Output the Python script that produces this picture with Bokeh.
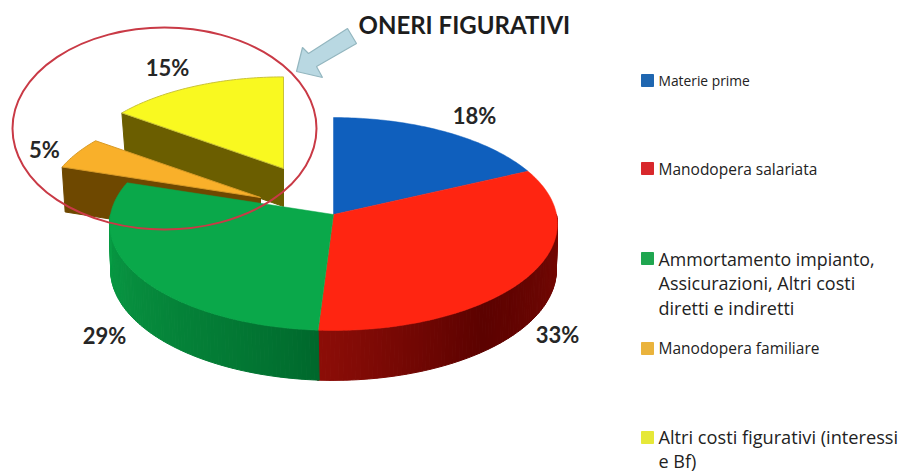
import numpy as np
from bokeh.embed import file_html
from bokeh.models import Range1d, ColumnDataSource
from bokeh.plotting import figure
from bokeh.resources import INLINE
from bokeh.core.properties import value

# ---- data
categories = ["Materie prime", "Manodopera salariata",
              "Ammortamento impianto, Assicurazioni, Altri costi diretti e indiretti",
              "Manodopera familiare", "Altri costi figurativi (interessi e Bf)"]
shares = [18, 33, 29, 5, 15]
share_labels = ["18%", "33%", "29%", "5%", "15%"]
legend_lines = [["Materie prime"], ["Manodopera salariata"],
                ["Ammortamento impianto,", "Assicurazioni, Altri costi", "diretti e indiretti"],
                ["Manodopera familiare"], ["Altri costi figurativi (interessi", "e Bf)"]]
callout = "ONERI FIGURATIVI"

# ---- styles and layout (page pixels)
top_colors = ["#0f5fbd", "#ff2511", "#0aa84a", "#f9b02a", "#f9f920"]
legend_colors = ["#1f66b0", "#d8282c", "#1fa650", "#eab33c", "#e6e838"]
wall_colors = {3: "#6e4800", 4: "#6b5e00"}
offset = {3: (-73, -17), 4: (-50, -46)}
explode_scale = {3: 0.96, 4: 0.94}
wall_depth = {3: 45, 4: 38}
label_pos = [(474, 115), (557, 334), (104, 335), (44, 149), (167, 67)]
legend_y = [[80], [168], [258, 282, 307], [347], [436, 460]]
legend_sizes = [["13.8px"], ["15.5px"], ["17.8px", "18px", "18px"], ["15.5px"], ["18.2px", "18px"]]
legend_marker_y = [80, 168, 258, 348, 437]
CX, CY, A, B, K, DEPTH = 333, 214, 223, 105.6, 0.0892, 45.5

W, H = 902, 472
p = figure(width=W, height=H, output_backend="svg", toolbar_location=None,
           x_range=Range1d(0, W), y_range=Range1d(H, 0),
           min_border=0, outline_line_color=None, background_fill_color="white")
p.axis.visible = False
p.grid.visible = False


def proj(t, r=1.0):
    s = 1 / (1 + K * r * np.cos(t))
    return CX + A * r * np.sin(t) * s, CY - B * r * np.cos(t) * s, s


edges = np.radians(np.cumsum([0] + shares) * 3.6)


def arc(t0, t1):
    n = max(2, int(np.degrees(t1 - t0)) + 1)
    return np.linspace(t0, t1, n)


def top_face(i, r=1.0, dx=0.0, dy=0.0):
    x, y, _ = proj(arc(edges[i], edges[i + 1]), r)
    return [CX + dx, *(x + dx)], [CY + dy, *(y + dy)]


# exploded slices, back to front
for i in (4, 3):
    dx, dy = offset[i]
    x0, y0, _ = proj(edges[i], explode_scale[i])
    d = wall_depth[i]
    ax, ay = CX + dx, CY + dy
    p.patch([x0 + dx, ax, ax, x0 + dx + 3], [y0 + dy, ay, ay + d, y0 + dy + d],
            fill_color=wall_colors[i], line_color=wall_colors[i])
    fx, fy = top_face(i, explode_scale[i], dx, dy)
    p.patch(fx, fy, fill_color=top_colors[i], line_color="#c9c23a" if i == 4 else "#d89a26", line_width=1)


# shaded outer wall of the main pie
def mix(c0, c1, f):
    a = np.array(c0, float) * (1 - f) + np.array(c1, float) * f
    return "#%02x%02x%02x" % tuple(int(v) for v in a)


wall_x, wall_y, wall_c = [], [], []
for i, c_start, c_mid, c_end in ((1, (122, 10, 5), (92, 2, 0), (142, 14, 8)),
                                 (2, (0, 104, 44), (4, 128, 54), (10, 158, 70))):
    t0 = max(edges[i], np.pi / 2)
    t1 = min(edges[i + 1], 3 * np.pi / 2)
    ts = arc(t0, t1)
    for a, b in zip(ts[:-1], ts[1:]):
        xa, ya, sa = proj(a)
        xb, yb, sb = proj(b)
        wall_x.append([xa, xb, xb - 1, xa - 1] if i == 1 else [xa, xb, xb + 1, xa + 1])
        wall_y.append([ya, yb, yb + DEPTH * sb, ya + DEPTH * sa])
        f = (a - t0) / (t1 - t0)
        if i == 1:
            col = mix(c_start, c_mid, f / 0.55) if f < 0.55 else mix(c_mid, c_end, (f - 0.55) / 0.45)
        else:
            col = mix(c_start, c_end, f ** 0.8)
        wall_c.append(col)
p.patches(wall_x, wall_y, fill_color=wall_c, line_color=wall_c, line_width=1)

# main top faces
for i in (0, 1, 2):
    fx, fy = top_face(i)
    p.patch(fx, fy, fill_color=top_colors[i], line_color=top_colors[i], line_width=0.5)

# percentage labels
p.text([q[0] for q in label_pos], [q[1] for q in label_pos], text=share_labels,
       text_font=value("Lato"), text_font_size="22px", text_font_style="bold",
       text_color="#262626", text_align="center", text_baseline="middle")

# red ring
p.ellipse([164], [128], width=[304], height=[202], fill_color=None,
          line_color="#c93a46", line_width=2)

# arrow
p.patch([347, 356, 316, 322, 296, 302, 308], [28, 43, 66, 77, 71, 47, 53],
        fill_color="#b9d8e2", line_color="#93b6bf", line_width=1.2)

# callout
p.text([358], [24], text=[callout], text_font=value("Lato"), text_font_size="24px",
       text_font_style="bold", text_color="#1d1d1d", text_baseline="middle")

# legend
p.scatter([647] * 5, legend_marker_y, marker="square", size=12,
          fill_color=legend_colors, line_color=legend_colors)
lx, ly, lt, ls = [], [], [], []
for lines, ys, sizes in zip(legend_lines, legend_y, legend_sizes):
    for t, y, s in zip(lines, ys, sizes):
        lx.append(658)
        ly.append(y)
        lt.append(t)
        ls.append(s)
src = ColumnDataSource(dict(x=lx, y=ly, t=lt, s=ls))
p.text("x", "y", text="t", source=src, text_font=value("Open Sans"), text_font_size="s",
       text_color="#222222", text_baseline="middle")

open("out.html", "w").write(file_html(p, INLINE))
